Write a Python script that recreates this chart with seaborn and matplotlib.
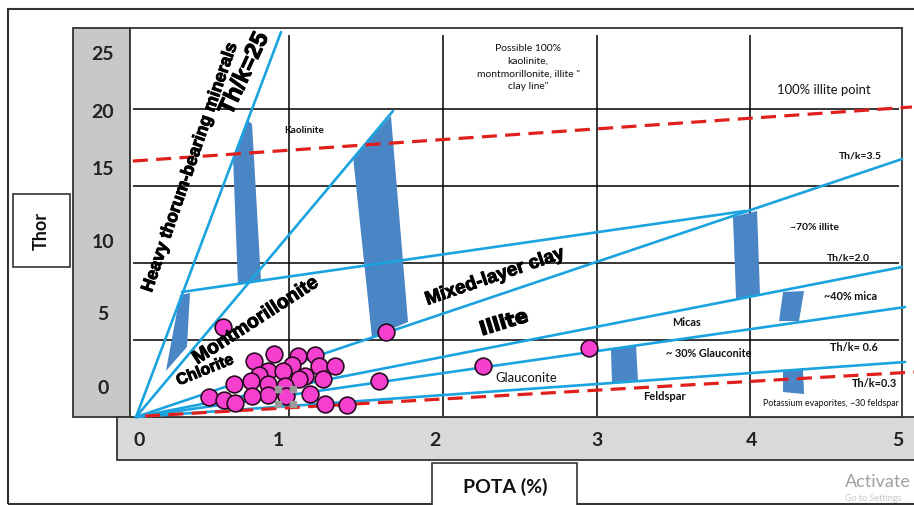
import matplotlib
matplotlib.use("Agg")
import matplotlib.pyplot as plt
from matplotlib.patches import Rectangle, Polygon
import matplotlib.patheffects as pe
import seaborn as sns
import pandas as pd

W, H = 914, 506

# ---------------- data ----------------
# well samples (POTA %, Thor ppm)
pota = [0.567, 1.629, 0.899, 1.055, 1.166, 0.769, 1.016, 1.192, 1.296, 0.860,
        0.958, 0.801, 1.101, 1.062, 1.218, 0.749, 0.638, 0.860, 0.971, 1.583,
        1.134, 0.860, 0.756, 0.977, 0.476, 0.573, 0.645, 1.231, 1.375, 2.261,
        2.951]
thor = [5.84, 5.52, 4.09, 3.96, 4.03, 3.64, 3.38, 3.31, 3.31, 2.99,
        2.99, 2.73, 2.66, 2.47, 2.47, 2.34, 2.14, 2.14, 2.01, 2.34,
        1.49, 1.43, 1.36, 1.36, 1.30, 1.10, 0.91, 0.84, 0.78, 3.31,
        4.48]

# Th/K ratio lines from the origin (end points)
ray_x = [0.945, 1.674, 4.99, 4.99, 5.01, 5.01]
ray_y = [25.0, 19.87, 16.75, 9.74, 7.14, 3.57]

# montmorillonite / mixed-layer boundary
mix_x = [0.30, 3.967]
mix_y = [8.12, 13.38]

# red dashed lines
red_up_x = [-0.02, 5.055]
red_up_y = [16.62, 20.13]
red_low_x = [0.059, 5.068]
red_low_y = [0.065, 2.92]

# blue zone wedges
q_heavy = [(0.195, 2.99), (0.287, 7.92), (0.352, 8.05), (0.332, 4.55)]
q_kaol = [(0.632, 16.88), (0.723, 19.29), (0.756, 19.03), (0.814, 8.90), (0.664, 8.64)]
q_mont = [(1.414, 16.88), (1.661, 19.55), (1.772, 6.17), (1.537, 5.19)]
q_ill70 = [(3.889, 12.99), (4.046, 13.38), (4.065, 7.92), (3.909, 7.66)]
q_mica40 = [(4.215, 8.12), (4.352, 8.18), (4.319, 6.23), (4.189, 6.23)]
q_glau30 = [(3.094, 4.35), (3.257, 4.68), (3.270, 2.40), (3.101, 2.21)]
q_evap = [(4.215, 3.05), (4.345, 3.05), (4.352, 1.49), (4.215, 1.62)]
wedges = [q_heavy, q_kaol, q_mont, q_ill70, q_mica40, q_glau30, q_evap]

# grid and tick labels
grid_x = [1, 2, 3, 4]
grid_y = [5, 10, 15, 20]
xtick_pos = [0.02, 0.93, 1.95, 3.0, 4.01, 4.96]
xtick_lab = ["0", "1", "2", "3", "4", "5"]
ytick_pos = [23.70, 19.94, 16.23, 11.49, 6.82, 2.01]
ytick_lab = ["25", "20", "15", "10", "5", "0"]

# selection handles seen around one marker
handle_x = [0.925, 1.023, 0.925, 1.023]
handle_y = [1.82, 1.82, 0.84, 0.84]

# small annotations: text, x, y, size, weight
small_labels = [
    ("Kaolinite", 1.094, 18.64, 7.2, "bold"),
    ("Possible 100%\nkaolinite,\nmontmorillonite, illite \"\nclay line\"", 2.554, 22.75, 7.5, "normal"),
    ("100% illite point", 4.482, 21.30, 9.4, "normal"),
    ("Th/k=3.5", 4.717, 17.01, 7.5, "bold"),
    ("~70% illite", 4.417, 12.34, 7.5, "bold"),
    ("Th/k=2.0", 4.638, 10.39, 7.5, "bold"),
    ("~40% mica", 4.658, 7.86, 7.8, "bold"),
    ("Micas", 3.583, 6.17, 7.8, "bold"),
    ("Th/k= 0.6", 4.678, 4.61, 7.8, "bold"),
    ("~ 30% Glauconite", 3.733, 4.16, 7.8, "bold"),
    ("Glauconite", 2.541, 2.60, 9.4, "normal"),
    ("Th/k=0.3", 4.814, 2.27, 7.8, "bold"),
    ("Feldspar", 3.440, 1.40, 8, "bold"),
    ("Potassium evaporites, ~30 feldspar", 4.528, 0.97, 6.4, "normal"),
]

# big rotated zone names: text, x, y, rotation, size
zone_labels = [
    ("Heavy thorum-bearing minerals", 0.352, 16.2, 71, 12.6),
    ("Th/k=25", 0.705, 22.3, 65, 17),
    ("Montmorillonite", 0.782, 6.23, 33, 14),
    ("Chlorite", 0.450, 3.05, 22, 11.5),
    ("Mixed-layer clay", 2.339, 9.09, 19, 13.6),
]

line_blue = "#1ba3df"
wedge_blue = "#4a86c6"
red = "#e0201c"
dot_col = "#f43fcf"

sns.set_theme(style="white")
plt.rcParams["font.family"] = ["Lato", "DejaVu Sans"]

fig = plt.figure(figsize=(W / 100, H / 100), dpi=100)


def frac(x0, y0, x1, y1):
    return [x0 / W, 1 - y1 / H, (x1 - x0) / W, (y1 - y0) / H]


def fig_rect(x0, y0, x1, y1, **kw):
    r = frac(x0, y0, x1, y1)
    fig.add_artist(Rectangle((r[0], r[1]), r[2], r[3], transform=fig.transFigure, **kw))


# frame, grey label strips, axis title boxes
fig_rect(8, 10, 930, 505, fill=False, ec="#333333", lw=1.5, zorder=-2)
fig_rect(73, 29, 130, 418, fc="#c8c8c8", ec="#333333", lw=1.3, zorder=-1)
fig_rect(117, 418, 930, 461, fc="#d9d9d9", ec="#333333", lw=1.3, zorder=-1)
fig_rect(13, 195, 70, 268, fc="white", ec="#333333", lw=1.2, zorder=-1)
fig_rect(432, 464, 577, 515, fc="white", ec="#333333", lw=1.2, zorder=-1)
fig.text(41.5 / W, 1 - 231 / H, "Thor", rotation=90, ha="center", va="center",
         fontsize=13, fontweight="bold", color="#111111")
fig.text(505 / W, 1 - 487 / H, "POTA (%)", ha="center", va="center",
         fontsize=14, fontweight="bold", color="#111111")
fig.text(845 / W, 1 - 482 / H, "Activate", ha="left", va="center",
         fontsize=13, color="#a0a0a0")
fig.text(845 / W, 1 - 499 / H, "Go to Settings", ha="left", va="center",
         fontsize=6.5, color="#c8c8c8")

ax = fig.add_axes(frac(130, 29, 902, 418))
ax.set_facecolor("white")
ax.set_xlim(-0.039, 4.990)
ax.set_ylim(0, 25.26)
for s in ax.spines.values():
    s.set_color("#333333")
    s.set_linewidth(1.3)

# tick labels in the grey strips
ax.set_xticks(xtick_pos, xtick_lab)
ax.set_yticks(ytick_pos, ytick_lab)
ax.tick_params(axis="x", length=0, pad=16.5, labelsize=14, labelcolor="#222222")
ax.tick_params(axis="y", length=0, pad=19.5, labelsize=14, labelcolor="#222222")
for lab in ax.get_xticklabels():
    lab.set_va("center")
    lab.set_fontweight("bold")
for lab in ax.get_yticklabels():
    lab.set_ha("center")
    lab.set_fontweight("bold")

# grid
ax.vlines(grid_x, 0, 24.8, color="black", lw=1.1, zorder=1)
ax.hlines(grid_y, -0.02, 4.97, color="black", lw=1.1, zorder=1)

# wedges
for q in wedges:
    ax.add_patch(Polygon(q, closed=True, fc=wedge_blue, ec="none", zorder=2))

# ratio lines
for ex, ey in zip(ray_x, ray_y):
    ax.plot([0, ex], [0, ey], color=line_blue, lw=1.9, zorder=3, clip_on=False)
ax.plot(mix_x, mix_y, color=line_blue, lw=1.9, zorder=3)

# red dashed lines
ax.plot(red_up_x, red_up_y, color=red, lw=2.3, ls=(0, (4.7, 2.6)), zorder=3, clip_on=False)
ax.plot(red_low_x, red_low_y, color=red, lw=2.3, ls=(0, (4.7, 2.6)), zorder=3, clip_on=False)

# samples
df = pd.DataFrame({"POTA": pota, "Thor": thor})
sns.scatterplot(data=df, x="POTA", y="Thor", s=145, color=dot_col,
                edgecolor="#2a0a20", linewidth=1.2, ax=ax, zorder=5)
ax.scatter(handle_x, handle_y, marker="s", s=22, color="#9a9a9a", zorder=6)
ax.set_xlabel("")
ax.set_ylabel("")

for txt, x, y, size, weight in small_labels:
    ax.text(x, y, txt, ha="center", va="center", fontsize=size, fontweight=weight,
            color="#111111", linespacing=1.55, zorder=7)

thick = [pe.withStroke(linewidth=0.7, foreground="black")]
for txt, x, y, rot, size in zone_labels:
    ax.text(x, y, txt, ha="center", va="center", rotation=rot, rotation_mode="anchor",
            fontsize=size, fontweight="bold", family=["Liberation Sans", "DejaVu Sans"],
            color="black", zorder=7, path_effects=thick)

ax.text(2.397, 6.10, "Illite", ha="center", va="center", rotation=17,
        rotation_mode="anchor", fontsize=14, fontweight="heavy",
        family=["DejaVu Sans"], color="black", zorder=7,
        path_effects=[pe.withStroke(linewidth=0.9, foreground="black")])

fig.savefig("out.png", dpi=100)
